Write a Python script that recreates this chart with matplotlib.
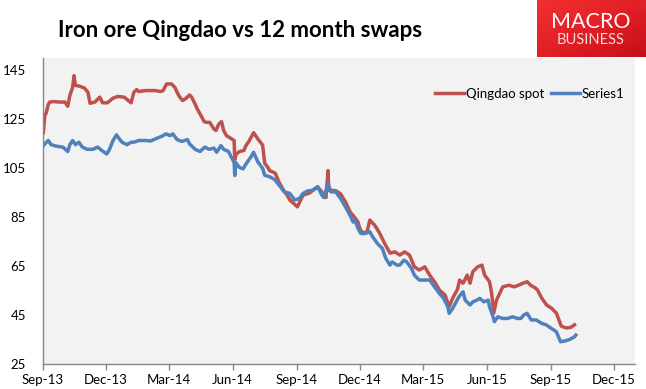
import matplotlib.pyplot as plt
import matplotlib.dates as mdates
from matplotlib.colors import LinearSegmentedColormap
import numpy as np
import pandas as pd

# Qingdao spot
spot_dates = [
    '2013-09-02', '2013-09-04', '2013-09-06', '2013-09-09', '2013-09-11', '2013-09-16', '2013-09-26',
    '2013-10-03', '2013-10-07', '2013-10-10', '2013-10-14', '2013-10-16', '2013-10-18', '2013-10-24',
    '2013-10-31', '2013-11-05', '2013-11-08', '2013-11-15', '2013-11-22', '2013-11-26', '2013-12-03',
    '2013-12-11', '2013-12-18', '2013-12-27', '2014-01-06', '2014-01-10', '2014-01-14', '2014-01-17',
    '2014-01-27', '2014-02-10', '2014-02-17', '2014-02-21', '2014-02-26', '2014-03-05', '2014-03-10',
    '2014-03-13', '2014-03-17', '2014-03-21', '2014-03-25', '2014-03-31', '2014-04-03', '2014-04-08',
    '2014-04-11', '2014-04-16', '2014-04-21', '2014-04-25', '2014-04-29', '2014-05-05', '2014-05-08',
    '2014-05-12', '2014-05-16', '2014-05-19', '2014-05-23', '2014-05-29', '2014-06-03', '2014-06-04',
    '2014-06-06', '2014-06-11', '2014-06-17', '2014-06-20', '2014-06-25', '2014-07-01', '2014-07-07',
    '2014-07-14', '2014-07-17', '2014-07-21', '2014-07-24', '2014-08-01', '2014-08-07', '2014-08-13',
    '2014-08-18', '2014-08-22', '2014-08-28', '2014-09-02', '2014-09-10', '2014-09-19', '2014-10-01',
    '2014-10-07', '2014-10-13', '2014-10-16', '2014-10-17', '2014-10-27', '2014-11-03', '2014-11-10',
    '2014-11-17', '2014-11-24', '2014-11-28', '2014-12-01', '2014-12-05', '2014-12-11', '2014-12-15',
    '2014-12-22', '2014-12-29', '2015-01-05', '2015-01-13', '2015-01-20', '2015-01-27', '2015-02-03',
    '2015-02-10', '2015-02-17', '2015-02-24', '2015-03-04', '2015-03-11', '2015-03-18', '2015-03-25',
    '2015-04-02', '2015-04-08', '2015-04-13', '2015-04-20', '2015-04-23', '2015-04-28', '2015-05-04',
    '2015-05-08', '2015-05-12', '2015-05-19', '2015-05-25', '2015-05-29', '2015-06-05', '2015-06-08',
    '2015-06-11', '2015-06-15', '2015-06-24', '2015-07-03', '2015-07-10', '2015-07-15', '2015-07-23',
    '2015-07-29', '2015-08-03', '2015-08-10', '2015-08-13', '2015-08-19', '2015-08-26', '2015-09-02',
    '2015-09-09', '2015-09-16', '2015-09-23', '2015-09-30', '2015-10-05',
]
spot = [
    119.5, 126.5, 127.5, 131.0, 132.0, 132.2, 132.0,
    132.0, 130.3, 134.7, 138.0, 142.8, 138.8, 138.5,
    137.7, 136.0, 131.5, 132.0, 134.0, 131.7, 131.7,
    133.6, 134.3, 134.0, 131.7, 136.0, 137.1, 136.3,
    136.7, 136.7, 136.3, 136.7, 139.4, 139.4, 138.0,
    136.0, 134.0, 132.6, 133.3, 134.9, 134.0, 131.2,
    129.2, 126.7, 124.0, 123.7, 123.7, 121.0, 120.4,
    123.0, 124.0, 120.4, 118.3, 117.2, 116.3, 108.5,
    110.8, 111.8, 112.2, 114.2, 116.3, 119.5, 117.0,
    114.4, 107.0, 105.5, 104.0, 103.0, 99.0, 96.0,
    94.0, 92.0, 90.5, 89.2, 94.0, 94.8, 97.4,
    95.3, 93.0, 104.0, 96.0, 95.8, 94.5, 91.2,
    87.0, 84.6, 83.0, 80.0, 78.5, 79.0, 83.8,
    81.7, 78.5, 74.4, 70.3, 70.8, 69.5, 70.8,
    69.5, 64.7, 63.4, 64.7, 61.3, 58.6, 55.2,
    53.2, 48.4, 51.9, 55.5, 59.3, 58.0, 61.3,
    58.0, 62.7, 64.7, 65.4, 61.3, 58.6, 54.0,
    45.8, 51.1, 56.5, 57.2, 56.5, 57.0, 58.0,
    58.6, 57.2, 56.0, 55.2, 51.9, 49.1, 47.8,
    45.8, 40.5, 39.7, 40.0, 41.0,
]

# Series1 (12 month swaps)
swap_dates = [
    '2013-09-02', '2013-09-04', '2013-09-09', '2013-09-13', '2013-09-20', '2013-09-30', '2013-10-07',
    '2013-10-10', '2013-10-14', '2013-10-18', '2013-10-23', '2013-10-28', '2013-11-04', '2013-11-12',
    '2013-11-19', '2013-11-25', '2013-12-02', '2013-12-06', '2013-12-11', '2013-12-16', '2013-12-20',
    '2013-12-24', '2013-12-31', '2014-01-06', '2014-01-10', '2014-01-17', '2014-01-27', '2014-02-03',
    '2014-02-12', '2014-02-19', '2014-02-25', '2014-03-03', '2014-03-07', '2014-03-13', '2014-03-20',
    '2014-03-28', '2014-03-31', '2014-04-08', '2014-04-15', '2014-04-22', '2014-04-28', '2014-05-05',
    '2014-05-09', '2014-05-15', '2014-05-19', '2014-05-26', '2014-05-30', '2014-06-03', '2014-06-04',
    '2014-06-05', '2014-06-10', '2014-06-16', '2014-06-20', '2014-06-27', '2014-07-01', '2014-07-07',
    '2014-07-14', '2014-07-17', '2014-07-24', '2014-07-31', '2014-08-07', '2014-08-14', '2014-08-22',
    '2014-08-29', '2014-09-05', '2014-09-10', '2014-09-17', '2014-09-24', '2014-10-01', '2014-10-07',
    '2014-10-10', '2014-10-16', '2014-10-20', '2014-10-27', '2014-11-03', '2014-11-10', '2014-11-17',
    '2014-11-21', '2014-11-24', '2014-11-28', '2014-12-02', '2014-12-08', '2014-12-15', '2014-12-19',
    '2014-12-26', '2015-01-02', '2015-01-07', '2015-01-13', '2015-01-16', '2015-01-23', '2015-01-27',
    '2015-02-02', '2015-02-06', '2015-02-13', '2015-02-17', '2015-02-24', '2015-03-04', '2015-03-11',
    '2015-03-18', '2015-03-25', '2015-03-31', '2015-04-06', '2015-04-08', '2015-04-13', '2015-04-17',
    '2015-04-22', '2015-04-28', '2015-05-01', '2015-05-08', '2015-05-12', '2015-05-18', '2015-05-22',
    '2015-05-28', '2015-06-03', '2015-06-05', '2015-06-10', '2015-06-12', '2015-06-17', '2015-06-24',
    '2015-07-01', '2015-07-08', '2015-07-15', '2015-07-20', '2015-07-24', '2015-07-29', '2015-08-04',
    '2015-08-11', '2015-08-19', '2015-08-26', '2015-09-02', '2015-09-09', '2015-09-15', '2015-09-21',
    '2015-09-28', '2015-10-05', '2015-10-07',
]
swap = [
    114.2, 114.9, 116.3, 114.6, 114.0, 113.6, 111.8,
    114.6, 116.3, 114.6, 115.6, 113.6, 112.7, 112.7,
    113.6, 112.2, 110.8, 112.7, 116.3, 118.6, 117.0,
    115.6, 114.6, 115.6, 115.6, 116.3, 116.3, 116.1,
    117.2, 118.0, 119.0, 118.3, 119.0, 116.7, 115.9,
    116.7, 114.9, 112.7, 111.8, 113.6, 112.7, 113.2,
    111.5, 114.2, 112.7, 111.8, 109.5, 107.4, 102.0,
    107.4, 105.4, 104.7, 106.7, 109.5, 111.5, 107.6,
    104.9, 102.1, 101.5, 100.4, 98.0, 95.3, 94.7,
    92.0, 92.6, 94.7, 95.7, 96.0, 97.4, 94.0,
    93.0, 98.7, 95.3, 95.3, 92.6, 89.2, 85.5,
    83.0, 83.5, 80.4, 78.3, 78.3, 79.0, 77.0,
    74.2, 72.2, 68.1, 65.4, 66.7, 65.4, 65.4,
    67.4, 66.7, 64.0, 61.3, 59.3, 59.3, 59.3,
    56.5, 53.8, 51.8, 48.4, 45.7, 47.7, 49.8,
    52.5, 54.5, 51.1, 49.1, 50.4, 51.1, 51.8,
    50.4, 51.1, 48.4, 44.3, 42.3, 44.3, 43.6,
    43.6, 44.3, 43.6, 43.6, 45.0, 45.7, 43.0,
    43.0, 41.6, 40.9, 39.5, 38.2, 34.1, 34.4,
    35.0, 36.1, 36.8,
]

y_ticks = [25, 45, 65, 85, 105, 125, 145]
x_ticks = pd.date_range('2013-09-01', '2015-12-01', freq='3MS')

RED = '#C0504D'
BLUE = '#4F81BD'
FONT = ['Lato', 'DejaVu Sans']

fig = plt.figure(figsize=(6.46, 3.89), dpi=100)
fig.patch.set_facecolor('white')
ax = fig.add_axes([42.7 / 646, 25 / 389, 592.3 / 646, 306 / 389])
ax.set_facecolor('#F2F2F2')

ax.plot(pd.to_datetime(spot_dates), spot, color=RED, lw=2.5, label='Qingdao spot', solid_joinstyle='round')
ax.plot(pd.to_datetime(swap_dates), swap, color=BLUE, lw=2.5, label='Series1', solid_joinstyle='round')

ax.set_xlim(pd.Timestamp('2013-09-01'), pd.Timestamp('2015-12-31'))
ax.set_ylim(25, 150)
ax.set_yticks(y_ticks)
ax.set_xticks(x_ticks)
ax.xaxis.set_major_formatter(mdates.DateFormatter('%b-%y'))

for s in ['top', 'right']:
    ax.spines[s].set_visible(False)
for s in ['left', 'bottom']:
    ax.spines[s].set_color('#868686')
    ax.spines[s].set_linewidth(1.0)
ax.tick_params(axis='y', length=0, pad=12, labelsize=9.5, labelcolor='black')
ax.tick_params(axis='x', length=4, width=1, color='#868686', direction='out', pad=3,
               labelsize=9.5, labelcolor='black')
for lab in ax.get_xticklabels() + ax.get_yticklabels():
    lab.set_family(FONT)

ax.legend(loc='center right', bbox_to_anchor=(0.99, 0.882), ncol=2, frameon=False,
          handlelength=2.2, handletextpad=0.1, columnspacing=0.5,
          prop={'family': FONT, 'size': 9.5}, borderaxespad=0)

# title
fig.text(58 / 646, 1 - 36.7 / 389, 'Iron ore Qingdao vs 12 month swaps', ha='left', va='baseline',
         fontsize=16, fontweight='bold', family=FONT, color='black')

# logo
lax = fig.add_axes([537 / 646, 1 - 57 / 389, 109 / 646, 57 / 389])
grad = np.linspace(0, 1, 100)[None, :] + np.linspace(0, 1, 60)[:, None]
cmap = LinearSegmentedColormap.from_list('logo', ['#F3302F', '#E21F26', '#C40F18'])
lax.imshow(grad, cmap=cmap, aspect='auto', extent=[0, 1, 0, 1])
lax.set_xlim(0, 1)
lax.set_ylim(0, 1)
lax.axis('off')
lax.text(0.49, 0.62, 'MACRO', ha='center', va='center', color='white', fontsize=15.5,
         fontweight='normal', family=FONT)
lax.text(0.49, 0.29, 'BUSINESS', ha='center', va='center', color='#F8D8D8', fontsize=10.5,
         family=FONT)

fig.savefig('out.png', dpi=100)
